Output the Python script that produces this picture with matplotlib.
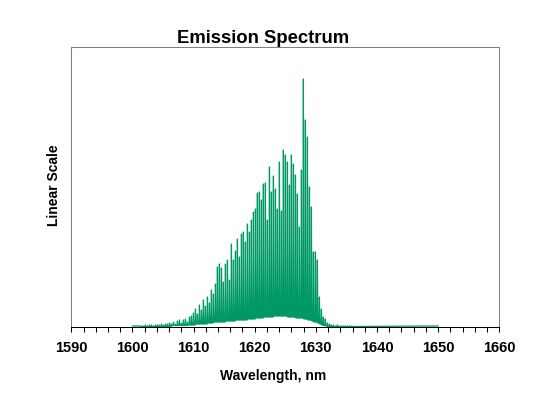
import numpy as np
import matplotlib.pyplot as plt

plt.rcParams['font.family'] = ['Liberation Sans', 'DejaVu Sans']
plt.rcParams['font.weight'] = 'bold'

# longitudinal mode positions (nm)
mode_nm = [
    1601.15, 1601.48, 1601.80, 1602.13, 1602.46, 1602.79, 1603.11, 1603.44, 1603.77, 1604.09,
    1604.42, 1604.75, 1605.07, 1605.40, 1605.73, 1606.06, 1606.38, 1606.71, 1607.04, 1607.36,
    1607.69, 1608.02, 1608.34, 1608.67, 1609.00, 1609.33, 1609.65, 1609.98, 1610.31, 1610.63,
    1610.96, 1611.29, 1611.61, 1611.94, 1612.27, 1612.60, 1612.92, 1613.25, 1613.58, 1613.90,
    1614.23, 1614.56, 1614.88, 1615.21, 1615.54, 1615.87, 1616.19, 1616.52, 1616.85, 1617.17,
    1617.50, 1617.83, 1618.15, 1618.48, 1618.81, 1619.14, 1619.46, 1619.79, 1620.12, 1620.44,
    1620.77, 1621.10, 1621.42, 1621.75, 1622.08, 1622.41, 1622.73, 1623.06, 1623.39, 1623.71,
    1624.04, 1624.37, 1624.69, 1625.02, 1625.35, 1625.68, 1626.00, 1626.33, 1626.66, 1626.98,
    1627.31, 1627.64, 1627.96, 1628.29, 1628.62, 1628.95, 1629.27, 1629.60, 1629.93, 1630.25,
    1630.58, 1630.91, 1631.23, 1631.56, 1631.89, 1632.22, 1632.54, 1632.87, 1633.20, 1633.52,
    1633.85, 1634.18, 1634.50, 1634.83, 1635.16, 1635.49, 1635.81,
]

# peak level of each mode (arbitrary linear units)
peak_level = [
    1, 1, 1, 2, 1, 2, 2, 1, 2, 2,
    2, 3, 2, 3, 3, 4,
    3, 5, 3, 6, 7, 4,
    7, 8, 5, 10, 11, 14,
    18, 13, 22, 17, 27, 21,
    30, 24, 37, 33, 43, 60,
    63, 59, 45, 63, 67, 47,
    83, 67, 76, 88, 70, 93,
    95, 85, 103, 95, 107, 115,
    118, 134, 135, 127, 143, 144,
    107, 160, 135, 151, 138, 118,
    165, 116, 177, 172, 165, 142,
    172, 163, 152, 133, 100, 157,
    248,
    207, 190, 140, 120, 75, 75, 67,
    30, 18, 10, 8, 4, 3, 2,
    2, 1, 2, 1, 1, 1, 1, 1, 1, 1,
]

# level of the dip following each mode
trough_level = [
    0.5, 0.5, 0.5, 0.5, 0.5, 0.5, 0.5, 0.5, 0.5, 0.5,
    0.5, 0.5, 0.5, 0.5, 0.5, 0.5,
    1.5, 1.5, 1.5, 1.5, 1.5, 1.5,
    1.5, 1.5, 2, 2, 2, 2,
    3, 3, 3, 3, 3, 3,
    4, 4, 4, 5, 5, 5,
    5, 5, 5, 6, 6, 6,
    6, 6, 7, 7, 7, 7,
    7, 7, 8, 8, 8, 8,
    9, 9, 9, 9, 10, 10,
    10, 10, 10, 11, 11, 11,
    11, 11, 11, 11, 10, 10,
    10, 10, 9, 9, 9, 9,
    8,
    8, 7, 7, 6, 5, 5, 4,
    3, 2, 1.5, 1, 0.5, 0.5, 0.5,
    0.5, 0.5, 0.5, 0.5, 0.5, 0.5, 0.5, 0.5, 0.5, 0.5,
]

scan_start_nm = 1600.0
scan_end_nm = 1650.0
floor_level = 1.0

green = '#009966'
half_width = 0.07  # spike half width in nm, just a drawing choice

# trace: narrow spike at each mode, flat dip between neighbours
xs = [scan_start_nm]
ys = [floor_level]
prev_dip = floor_level
for i in range(len(mode_nm)):
    xs += [mode_nm[i] - half_width, mode_nm[i], mode_nm[i] + half_width]
    ys += [prev_dip, peak_level[i], trough_level[i]]
    prev_dip = trough_level[i]
xs.append(scan_end_nm)
ys.append(floor_level)

fig = plt.figure(figsize=(5.42, 3.99), dpi=100)
ax = fig.add_axes([71.3 / 542, 1 - 327 / 399, 428 / 542, 280 / 399])
ax.plot(xs, ys, color=green, linewidth=0.9)

ax.set_xlim(1590, 1660)
ax.set_ylim(0, 280)
ax.set_xticks(np.arange(1590, 1661, 10))
ax.set_xticks(np.arange(1590, 1661, 2), minor=True)
ax.set_yticks([])
ax.tick_params(axis='x', which='both', direction='out', length=3.8, width=0.75,
               color='black', labelsize=10.5, pad=6.5)

for side in ['left', 'right', 'top']:
    ax.spines[side].set_color('#808080')
    ax.spines[side].set_linewidth(0.75)
ax.spines['bottom'].set_color('black')
ax.spines['bottom'].set_linewidth(0.75)

ax.set_xlabel('Wavelength, nm', fontsize=10, fontweight='bold')
ax.xaxis.set_label_coords((273 - 71.3) / 428, (327 - 376) / 280)
ax.xaxis.label.set_va('center')

ax.set_ylabel('Linear Scale', fontsize=10, fontweight='bold')
ax.yaxis.set_label_coords((53.5 - 71.3) / 428, (327 - 185) / 280)
ax.yaxis.label.set_va('center')
ax.yaxis.label.set_ha('center')

fig.text(263 / 542, 1 - 43 / 399, 'Emission Spectrum', ha='center', va='baseline',
         fontsize=13.3, fontweight='bold')

fig.savefig('out.png', dpi=100)
